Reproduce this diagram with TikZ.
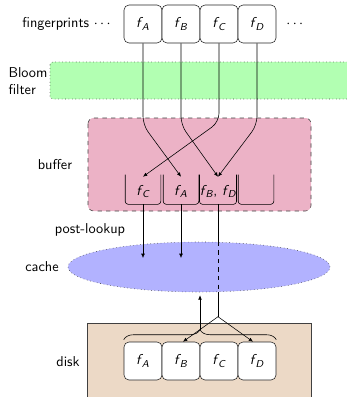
\documentclass[tikz,border=0pt]{standalone}
\usepackage{amsmath}
\usepackage{tikz}
\usetikzlibrary{shapes,arrows.meta,positioning,calc,decorations.pathreplacing}
\renewcommand{\familydefault}{\sfdefault}
\newcommand{\fpr}[1]{\textit{f}\kern-0.9pt$_{\textit{#1}}$}

\begin{document}
\begin{tikzpicture}[x=0.7pt, y=-0.7pt, font=\sffamily,
    fp/.style={rectangle, rounded corners=3.5pt, draw=black!85, fill=white,
               minimum width=26.6pt, minimum height=26.6pt, inner sep=0pt},
    slot/.style={minimum width=24.5pt, minimum height=20.3pt, inner sep=0pt,
                 text height=10pt, text depth=2pt},
    region/.style={draw=black!75},
    go/.style={-{Latex[length=3pt,width=2.6pt]}}
]
    \useasboundingbox (0,0) rectangle (347,397);

    % regions
    \draw[region, dotted, fill=green!30, rounded corners=2pt] (50,62) rectangle (352,99);
    \draw[region, dashed, fill=purple!30, rounded corners=4pt] (88,118) rectangle (311,211);
    \node[ellipse, region, dotted, fill=blue!30, minimum width=183.4pt, minimum height=35pt,
          inner sep=0pt] (cache) at (199,267) {};
    \draw[region, fill=brown!30] (87,323) rectangle (311,405);

    % labels
    \node[anchor=east] (fplbl) at (118,24) {fingerprints $\cdots$};
    \node (more) at (296,24) {$\cdots$};
    \node[align=left] (bloomlbl) at (28,81) {Bloom\\filter};
    \node (buflbl) at (55,165) {buffer};
    \node (postlbl) at (90,230) {post-lookup};
    \node (cachelbl) at (42,267) {cache};
    \node (disklbl) at (68,362) {disk};

    % fingerprints and disk
    \foreach \n/\x in {A/143,B/181,C/219,D/257} {
        \node[fp] (t\n) at (\x,24) {\fpr{\n}};
        \node[fp] (d\n) at (\x,361) {\fpr{\n}};
    }

    % buffer slots
    \foreach \i/\x/\t in {1/143/{\fpr{C}},2/181/{\fpr{A}},3/218/{\fpr{B}, \fpr{D}},4/256/{}} {
        \node[slot] (s\i) at (\x,189.5) {\t};
        \draw[rounded corners=2pt] (s\i.north west) -- (s\i.south west) -- (s\i.south east) -- (s\i.north east);
    }

    \coordinate (bend) at (0,125);
    \draw[go, rounded corners=6pt] (tA.south) -- (tA |- bend) -- ($(s2.north)+(0,2)$);
    \draw[go, rounded corners=6pt] (tB.south) -- (tB |- bend) -- ($(s3.north)+(0,2)$);
    \draw[go, rounded corners=6pt] (tC.south) -- ($(tC |- bend)+(0,-3)$) -- ($(s1.north)+(0,2)$);
    \draw[go, rounded corners=6pt] (tD.south) -- (tD |- bend) -- ($(s3.north)+(0,2)$);

    % post-lookup
    \draw[go] (s1.south) -- ($(s1 |- cache)+(0,-9)$);
    \draw[go] (s2.south) -- ($(s2 |- cache)+(0,-9)$);
    \draw (s3.south) -- (s3 |- cache.north);
    \draw[dashed] (s3 |- cache.north) -- (s3 |- cache.south);
    \coordinate (split) at ($(s3 |- dA.north)+(0,-25)$);
    \draw (s3 |- cache.south) -- (split);
    \draw[go, rounded corners=3pt] (split) -- ($(dB.north)+(2,0)$);
    \draw[go, rounded corners=3pt] (split) -- ($(dD.north)+(-4,0)$);

    % disk read
    \draw[decorate, decoration={brace, amplitude=7pt}]
        ($(dA.north west)+(0,-2)$) -- ($(dD.north east)+(0,-2)$);
    \coordinate (tip) at ($(dA.north west)!0.5!(dD.north east)+(0,-12)$);
    \draw[go] (tip) -- ($(tip |- cache.south)+(0,3)$);
\end{tikzpicture}
\end{document}
